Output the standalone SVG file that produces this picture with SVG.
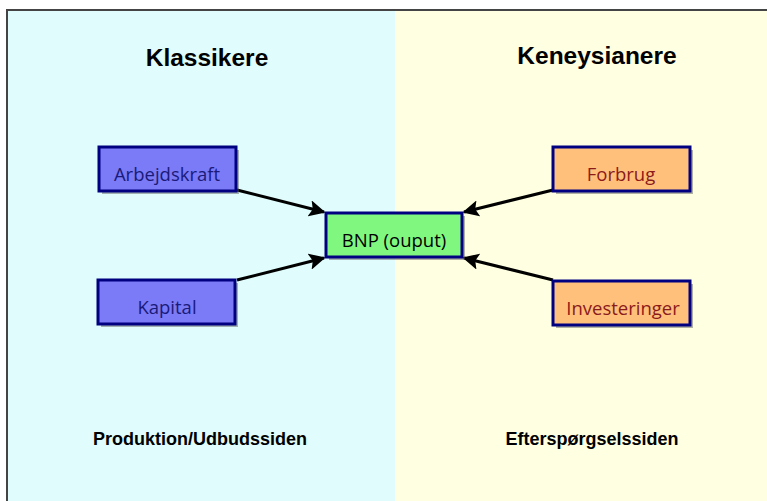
<svg xmlns="http://www.w3.org/2000/svg" width="767" height="501" viewBox="0 0 767 501">
<style>
.t{font-family:"Liberation Sans",Arial,sans-serif;font-weight:bold;fill:#000;text-anchor:middle}
.lbl{font-family:"Open Sans","Liberation Sans",sans-serif;font-size:18.5px;text-anchor:middle}
.box{stroke:#000080;stroke-width:3}
.sh{fill:#555;opacity:0.45}
.con{stroke:#000;stroke-width:3;fill:none;marker-end:url(#ah)}
</style>
<defs>
<marker id="ah" viewBox="0 0 10 10" refX="9" refY="5" markerWidth="5.5" markerHeight="5.5" orient="auto" markerUnits="strokeWidth">
<path d="M0,0 L10,5 L0,10 L2,5 Z" fill="#000"/>
</marker>
</defs>
<rect x="0" y="0" width="767" height="501" fill="#fff"/>
<rect x="7" y="10" width="388" height="495" fill="#e0fcfc"/>
<rect x="395" y="10" width="380" height="495" fill="#ffffe2"/>
<path d="M7,505 V10 H770" fill="none" stroke="#444" stroke-width="2"/>
<g id="titles">
<text class="t" x="207" y="66" font-size="24.5">Klassikere</text>
<text class="t" x="597" y="64" font-size="24.5">Keneysianere</text>
<text class="t" x="200" y="445" font-size="18">Produktion/Udbudssiden</text>
<text class="t" x="592" y="445" font-size="18">Efterspørgselssiden</text>
</g>
<g id="connectors">
<line class="con" x1="237" y1="190" x2="324" y2="212"/>
<line class="con" x1="237" y1="280" x2="324" y2="258"/>
<line class="con" x1="553" y1="190" x2="464" y2="212"/>
<line class="con" x1="553" y1="280" x2="464" y2="258"/>
</g>
<g id="arbejdskraft">
<rect class="sh" x="102" y="150" width="137" height="44"/>
<rect class="box" x="99" y="147" width="137" height="44" fill="#7b7bf7"/>
<text class="lbl" x="167" y="181" fill="#1a1a7a">Arbejdskraft</text>
</g>
<g id="kapital">
<rect class="sh" x="101" y="283" width="137" height="44"/>
<rect class="box" x="98" y="280" width="137" height="44" fill="#7b7bf7"/>
<text class="lbl" x="167" y="314" fill="#1a1a7a">Kapital</text>
</g>
<g id="bnp">
<rect class="sh" x="329" y="216" width="136" height="44"/>
<rect class="box" x="326" y="213" width="136" height="44" fill="#80f880"/>
<text class="lbl" x="394" y="247" fill="#000">BNP (ouput)</text>
</g>
<g id="forbrug">
<rect class="sh" x="556" y="150" width="137" height="44"/>
<rect class="box" x="553" y="147" width="137" height="44" fill="#ffc07c"/>
<text class="lbl" x="621" y="181" fill="#8b1a1a">Forbrug</text>
</g>
<g id="investeringer">
<rect class="sh" x="556" y="284" width="137" height="44"/>
<rect class="box" x="553" y="281" width="137" height="44" fill="#ffc07c"/>
<text class="lbl" x="623" y="315" fill="#8b1a1a">Investeringer</text>
</g>
</svg>
